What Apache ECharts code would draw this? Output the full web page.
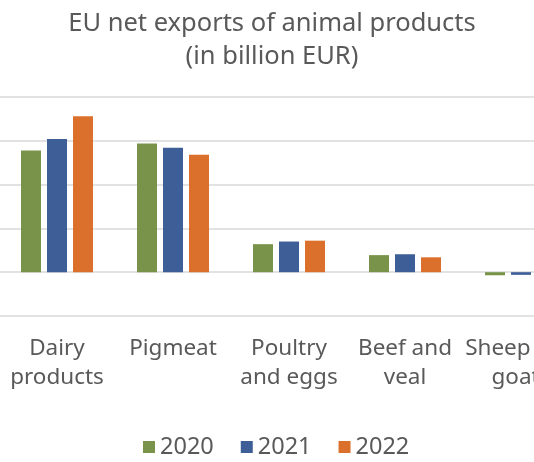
<!DOCTYPE html>
<html><head><meta charset="utf-8">
<script src="https://cdn.jsdelivr.net/npm/echarts@6/dist/echarts.min.js"></script>
<style>html,body{margin:0;padding:0;background:#fff;}#c{width:534px;height:462px;}</style>
</head><body><div id="c"></div>
<script>
const categories = ['Dairy\nproducts', 'Pigmeat', 'Poultry\nand eggs', 'Beef and\nveal', 'Sheep and\ngoats'];
const years = ['2020', '2021', '2022'];
const v2020 = [13.9, 14.7, 3.2, 1.95, -0.35];
const v2021 = [15.2, 14.2, 3.5, 2.05, -0.3];
const v2022 = [17.8, 13.4, 3.6, 1.7, -0.3];
const colors = ['#79944A', '#3D5E96', '#DB6F2C'];
const values = [v2020, v2021, v2022];

const chart = echarts.init(document.getElementById('c'));
chart.setOption({
  animation: false,
  title: {
    text: 'EU net exports of animal products\n(in billion EUR)',
    left: 267, top: 2, textAlign: 'center',
    textStyle: { fontFamily: 'Noto Sans', fontSize: 25.5, fontWeight: 'normal', color: '#595959', lineHeight: 33 }
  },
  legend: {
    data: years, top: 430, left: 138,
    itemWidth: 12, itemHeight: 12, itemGap: 27,
    textStyle: { fontFamily: 'Noto Sans', fontSize: 23.5, color: '#595959' },
    icon: 'rect'
  },
  grid: { left: -1, width: 580, top: 97, bottom: 146, containLabel: false, outerBoundsMode: 'none' },
  xAxis: {
    type: 'category', data: categories,
    axisLine: { show: false, onZero: false }, axisTick: { show: false },
    axisLabel: { fontFamily: 'Noto Sans', fontSize: 22.5, color: '#595959', lineHeight: 29, margin: 18, interval: 0 }
  },
  yAxis: {
    type: 'value', min: -5, max: 20, interval: 5,
    axisLabel: { show: false }, axisLine: { show: false }, axisTick: { show: false },
    splitLine: { lineStyle: { color: '#D9D9D9', width: 1.5 } }
  },
  series: years.map((y, i) => ({
    name: y, type: 'bar', data: values[i],
    barWidth: 20, barGap: '30%',
    itemStyle: { color: colors[i] }
  }))
});
</script></body></html>
